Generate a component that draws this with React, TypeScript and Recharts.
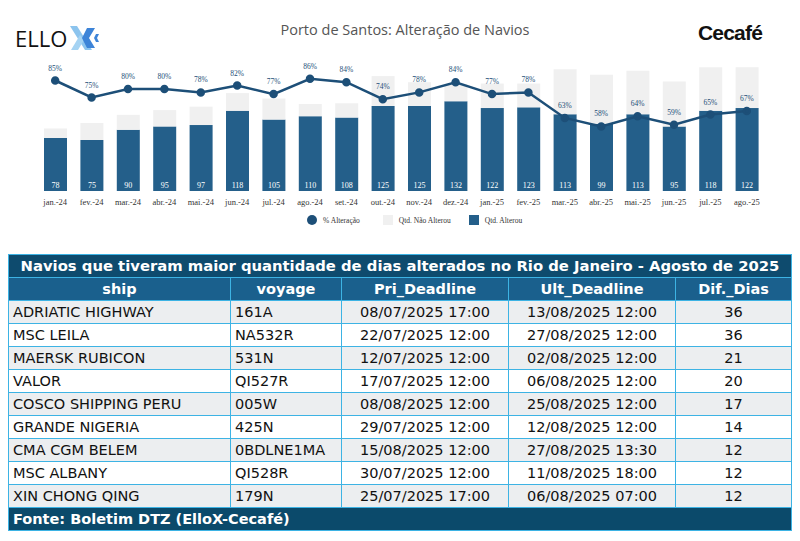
import React from "react";
import {
  ComposedChart,
  Bar,
  Line,
  XAxis,
  YAxis,
  LabelList
} from "recharts";

const months = [
  "jan.-24", "fev.-24", "mar.-24", "abr.-24", "mai.-24", "jun.-24", "jul.-24",
  "ago.-24", "set.-24", "out.-24", "nov.-24", "dez.-24", "jan.-25", "fev.-25",
  "mar.-25", "abr.-25", "mai.-25", "jun.-25", "jul.-25", "ago.-25"
];
const altered = [78, 75, 90, 95, 97, 118, 105, 110, 108, 125, 125, 132, 122, 123, 113, 99, 113, 95, 118, 122];
const notAltered = [14, 25, 22, 24, 27, 26, 31, 18, 21, 44, 35, 25, 36, 35, 66, 72, 64, 66, 64, 60];
const pctAltered = [85, 75, 80, 80, 78, 82, 77, 86, 84, 74, 78, 84, 77, 78, 63, 58, 64, 59, 65, 67];

const tableTitle = "Navios que tiveram maior quantidade de dias alterados no Rio de Janeiro - Agosto de 2025";
const columns = ["ship", "voyage", "Pri_Deadline", "Ult_Deadline", "Dif._Dias"];
const ships = ["ADRIATIC HIGHWAY", "MSC LEILA", "MAERSK RUBICON", "VALOR", "COSCO SHIPPING PERU", "GRANDE NIGERIA", "CMA CGM BELEM", "MSC ALBANY", "XIN CHONG QING"];
const voyages = ["161A", "NA532R", "531N", "QI527R", "005W", "425N", "0BDLNE1MA", "QI528R", "179N"];
const priDeadlines = ["08/07/2025 17:00", "22/07/2025 12:00", "12/07/2025 12:00", "17/07/2025 12:00", "08/08/2025 12:00", "29/07/2025 12:00", "15/08/2025 12:00", "30/07/2025 12:00", "25/07/2025 17:00"];
const ultDeadlines = ["13/08/2025 12:00", "27/08/2025 12:00", "02/08/2025 12:00", "06/08/2025 12:00", "25/08/2025 12:00", "12/08/2025 12:00", "27/08/2025 13:30", "11/08/2025 18:00", "06/08/2025 07:00"];
const difDias = [36, 36, 21, 20, 17, 14, 12, 12, 12];
const source = "Fonte: Boletim DTZ (ElloX-Cecafé)";

const chartData = months.map((m, i) => ({
  month: m,
  altered: altered[i],
  notAltered: notAltered[i],
  pct: pctAltered[i]
}));

const BLUE = "#245f8a";
const LINE = "#1d4f78";
const GRAY = "#f0f0f0";
const BORDER = "#3db3e4";
const serif = "'Liberation Serif', 'DejaVu Serif', serif";
const tableFont = "'DejaVu Sans', Verdana, sans-serif";

const colWidths = [222, 111, 167, 167, 116];
const colAlign: ("left" | "center")[] = ["left", "left", "center", "center", "center"];

export default function App() {
  const cell: React.CSSProperties = {
    border: `1px solid ${BORDER}`,
    height: 22,
    padding: "0 4px",
    fontSize: 14.5,
    lineHeight: "22px",
    whiteSpace: "nowrap",
    color: "#111"
  };
  return (
    <div style={{ position: "relative", width: 784, height: 525, fontFamily: tableFont }}>
      {/* header: logos + title */}
      <div style={{ position: "absolute", left: 7, top: 15, display: "flex", alignItems: "center" }}>
        <span style={{ fontFamily: "'Open Sans', sans-serif", fontSize: 22, color: "#111", letterSpacing: 0 }}>ELLO</span>
        <svg width="32" height="28" viewBox="0 0 32 28" style={{ marginLeft: 1 }}>
          <path d="M2 2 L9 2 L24 26 L17 26 Z" fill="#8cc4ee" />
          <path d="M3 26 L10 26 L16 16 L12 11 Z" fill="#a5d3f3" />
          <path d="M19 4 L27 4 L21 14 L27 24 L19 24 L14 14 Z" fill="#3d84d8" />
          <path d="M28 10 L31 10 L29 14 L31 18 L28 18 L26 14 Z" fill="#3d84d8" />
        </svg>
      </div>
      <div style={{ position: "absolute", left: 0, top: 12, width: 784, textAlign: "center", paddingLeft: 10, boxSizing: "border-box", fontFamily: "'Open Sans', sans-serif", fontSize: 14.5, color: "#555" }}>
        Porto de Santos: Alteração de Navios
      </div>
      <div style={{ position: "absolute", left: 690, top: 13, fontFamily: "'Liberation Sans', Arial, sans-serif", fontWeight: 700, fontSize: 21, letterSpacing: -0.8, color: "#111" }}>
        Cecafé
      </div>

      <div style={{ position: "absolute", left: 0, top: 0 }}>
        <ComposedChart
          width={784}
          height={210}
          data={chartData}
          margin={{ top: 47, right: 27, bottom: 7, left: 19 }}
        >
          <XAxis
            dataKey="month"
            axisLine={false}
            tickLine={false}
            height={20}
            interval={0}
            tick={{ fontFamily: serif, fontSize: 8.5, fill: "#333" }}
          />
          <YAxis
            yAxisId="qty"
            domain={[0, 200]}
            ticks={[0, 50, 100, 150, 200]}
            width={10}
            tick={false}
            tickSize={4}
            axisLine={false}
            tickLine={{ stroke: "#ddd" }}
          />
          <YAxis yAxisId="pct" orientation="right" domain={[20, 100]} hide />
          <Bar yAxisId="qty" dataKey="altered" name="Qtd. Alterou" stackId="a" fill={BLUE} barSize={23} isAnimationActive={false}>
            <LabelList dataKey="altered" position="insideBottom" offset={3} fill="#fff" fontFamily={serif} fontSize={8} />
          </Bar>
          <Bar yAxisId="qty" dataKey="notAltered" name="Qtd. Não Alterou" stackId="a" fill={GRAY} barSize={23} isAnimationActive={false} />
          <Line
            yAxisId="pct"
            dataKey="pct"
            name="% Alteração"
            stroke={LINE}
            strokeWidth={2.5}
            dot={{ r: 3, fill: LINE, stroke: LINE }}
            isAnimationActive={false}
          >
            <LabelList dataKey="pct" position="top" offset={10} formatter={(v: any) => `${v}%`} fill={LINE} fontFamily={serif} fontSize={7.5} />
          </Line>
        </ComposedChart>
      </div>

      {/* legend */}
      <div style={{ position: "absolute", top: 207, left: 299, display: "flex", alignItems: "center", fontFamily: serif, fontSize: 7.5, color: "#333" }}>
        <span style={{ width: 10, height: 10, borderRadius: 5, background: LINE, display: "inline-block" }} />
        <span style={{ marginLeft: 6, marginRight: 23 }}>% Alteração</span>
        <span style={{ width: 10, height: 10, background: GRAY, display: "inline-block" }} />
        <span style={{ marginLeft: 6, marginRight: 18 }}>Qtd. Não Alterou</span>
        <span style={{ width: 10, height: 10, background: BLUE, display: "inline-block" }} />
        <span style={{ marginLeft: 6 }}>Qtd. Alterou</span>
      </div>

      {/* table */}
      <table
        style={{
          position: "absolute",
          top: 246,
          left: 0,
          width: 784,
          borderCollapse: "collapse",
          tableLayout: "fixed",
          fontFamily: tableFont
        }}
      >
        <colgroup>
          {colWidths.map((w, i) => (
            <col key={i} style={{ width: w }} />
          ))}
        </colgroup>
        <tbody>
          <tr>
            <td colSpan={5} style={{ ...cell, background: "#0e4b6e", color: "#fff", fontWeight: 700, fontSize: 14.8, textAlign: "center" }}>
              {tableTitle}
            </td>
          </tr>
          <tr>
            {columns.map((c) => (
              <td key={c} style={{ ...cell, background: "#1a608d", color: "#fff", fontWeight: 700, textAlign: "center" }}>
                {c}
              </td>
            ))}
          </tr>
          {ships.map((s, i) => {
            const row = [s, voyages[i], priDeadlines[i], ultDeadlines[i], String(difDias[i])];
            return (
              <tr key={s} style={{ background: i % 2 === 0 ? "#eceef0" : "#fff" }}>
                {row.map((v, j) => (
                  <td key={j} style={{ ...cell, textAlign: colAlign[j] }}>
                    {v}
                  </td>
                ))}
              </tr>
            );
          })}
          <tr>
            <td colSpan={5} style={{ ...cell, background: "#0b4a6b", color: "#fff", fontWeight: 700 }}>
              {source}
            </td>
          </tr>
        </tbody>
      </table>
    </div>
  );
}
